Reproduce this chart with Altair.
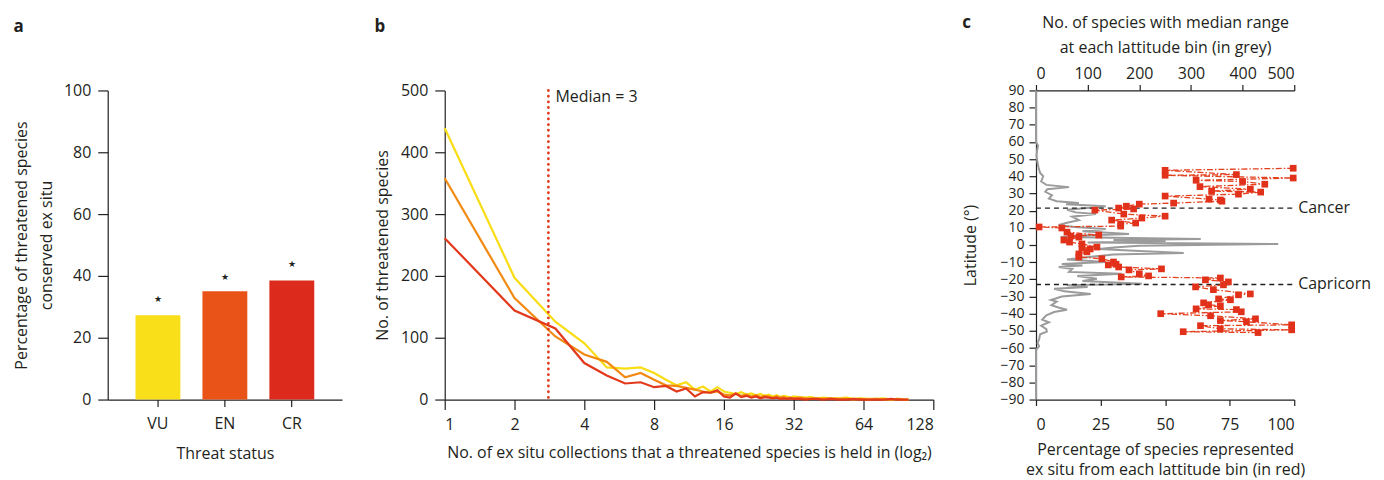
import altair as alt
import pandas as pd

FONT = "Open Sans"
TXT = "#231f20"

# ---------------- Panel a data ----------------
status = ["VU", "EN", "CR"]
pct_conserved = [27.3, 35.0, 38.5]
star_pos = [32.6, 39.6, 43.8]
bar_colors = ["#F9DE1A", "#EA5318", "#DC2A1C"]

# ---------------- Panel b data ----------------
n_collections = list(range(1, 33)) + [34, 36, 38, 40, 43, 46, 50, 54, 58, 62, 67, 72, 78, 84, 90, 96, 100]
vu_counts = [439, 197, 126, 91, 52, 50, 52, 43, 32, 23, 28, 16, 21, 13, 20, 13,
             11, 9, 12, 8, 10, 7, 9, 6, 8, 5, 7, 4, 6, 5, 3, 5,
             4, 3, 4, 2, 3, 2, 2, 3, 1, 2, 1, 1, 2, 0, 1, 0, 0]
en_counts = [358, 164, 102, 73, 61, 36, 43, 32, 23, 22, 19, 16, 13, 11, 13, 8,
             7, 9, 6, 8, 5, 7, 4, 6, 5, 3, 5, 3, 4, 2, 3, 2,
             3, 2, 1, 2, 1, 2, 1, 1, 0, 1, 0, 1, 0, 0, 1, 0, 0]
cr_counts = [261, 144, 115, 59, 39, 26, 28, 20, 22, 13, 18, 5, 12, 11, 15, 5,
             3, 10, 4, 6, 3, 5, 2, 4, 3, 2, 3, 1, 2, 1, 2, 1,
             1, 0, 1, 1, 0, 1, 0, 0, 1, 0, 0, 0, 0, 1, 0, 0, 0]
line_colors = ["#F8DC14", "#F28A12", "#E2391B"]
median_val = [2.8]
median_label = ["Median = 3"]

# ---------------- Panel c data ----------------
red_lat = [44.7, 43.5, 41, 40.6, 39, 37.7, 37, 35.4, 34, 32.5, 31.4, 30.8, 29.6, 28.5,
           26.7, 26.2, 25.5, 24.4, 23.8, 22.6, 21.5, 21, 20.3, 18, 16.8, 15.7, 14.5,
           12.8, 12.2, 11, 10.5, 9.9, 7.5, 5.8, 5.2, 4.6, 2.9, 1.7, 0.6, -1.2, -1.8,
           -2.3, -4, -5.2, -7, -8, -9.9, -11.2, -11.6, -12.8, -13.9, -14.5, -16.8,
           -18, -18.6, -19.2, -20.3, -21.5, -23.2, -24.4, -26, -28.5, -29, -31.4,
           -31.9, -33.7, -34.8, -35.4, -37.2, -37.6, -38.9, -40, -41.2, -43, -44,
           -44.7, -46.5, -47, -48.8, -49.4, -50.5, -51]
red_pct = [99.6, 50, 77.6, 50, 99.6, 62, 80, 88.6, 63.5, 83, 68, 87, 78.4, 50,
           67, 71.4, 72, 53.3, 40, 35, 32, 37.8, 22.8, 34, 50, 41, 29.3,
           38.6, 32.8, 32.8, 1.2, 10, 12, 24.3, 13.5, 16.6, 10.8, 13, 17.8, 23.6, 17.8,
           21, 19.7, 16.6, 16.6, 25.5, 30, 31, 28, 32, 48.6, 36, 40,
           43.6, 33, 71.4, 65.6, 74.5, 72.6, 61.8, 68.7, 83, 78.4, 70.7,
           75.3, 64.9, 66.8, 71.4, 62, 77.6, 79.5, 48.3, 67.6, 85, 71.4,
           81.5, 99, 63.7, 71.4, 99, 57, 86]
grey_lat = [90, 60, 58, 55, 52, 48, 45, 42, 40, 37, 35, 33.7, 32.5, 31, 29, 27, 25.5,
            24.4, 23.8, 22.5, 21.5, 20.5, 19, 18, 16.5, 14.5, 13, 11.6, 10.5, 9.3, 8,
            6.4, 5.5, 4.6, 3.5, 2.9, 2.3, 1.5, 0.6, -0.5, -1.5, -2.3, -3.5, -4.6,
            -5.5, -7, -8.5, -9.9, -11, -12, -12.8, -14, -15.7, -16.8, -18, -19.7,
            -21, -22.6, -23.5, -24.5, -25.5, -27, -28.5, -30, -32, -33, -35, -36.5,
            -37.7, -39, -41, -43.5, -45, -47, -49, -50.5, -52, -55, -57, -59, -61, -90]
grey_species = [0, 0, 4, 2, 1, 3, 5, 8, 14, 10, 20, 64, 22, 18, 31, 25, 40,
                83, 58, 135, 100, 60, 77, 116, 70, 83, 60, 44, 75, 135, 90,
                180, 90, 48, 319, 150, 251, 100, 469, 200, 150, 122, 200, 286,
                150, 102, 60, 135, 50, 90, 44, 70, 64, 166, 80, 118,
                90, 205, 60, 100, 35, 55, 106, 50, 29, 40, 30, 45,
                60, 35, 20, 12, 25, 10, 20, 21, 8, 6, 3, 6, 0, 0]
tropic_lat = [21.5, -23.0]
tropic_name = ["Cancer", "Capricorn"]


def panel_title(letter, offset, dy=0):
    return alt.TitleParams(letter, anchor="start", frame="bounds", offset=offset, dy=dy,
                           fontSize=17, fontWeight="bold", font=FONT, color=TXT)


# ---------------- Panel a ----------------
dfa = pd.DataFrame({"status": status, "pct": pct_conserved, "star": star_pos})
xa = alt.X("status:N", sort=status,
           scale=alt.Scale(paddingInner=0, paddingOuter=0.25),
           axis=alt.Axis(title="Threat status", labelAngle=0, tickSize=7,
                         labelPadding=9, titlePadding=14))
ya_axis = alt.Axis(values=[0, 20, 40, 60, 80, 100],
                   title=["Percentage of threatened species", "conserved ex situ"],
                   tickSize=10, labelPadding=7, titlePadding=9)
bars = alt.Chart(dfa).mark_bar(size=45).encode(
    x=xa,
    y=alt.Y("pct:Q", scale=alt.Scale(domain=[0, 100]), axis=ya_axis),
    color=alt.Color("status:N", scale=alt.Scale(domain=status, range=bar_colors), legend=None),
)
stars = alt.Chart(dfa).mark_text(text="★", fontSize=9, color=TXT).encode(
    x=xa,
    y=alt.Y("star:Q", scale=alt.Scale(domain=[0, 100]), axis=ya_axis),
)
panel_a = alt.layer(bars, stars).properties(width=235, height=310, title=panel_title("a", 47))

# ---------------- Panel b ----------------
rows = []
for s, vals in zip(status, [vu_counts, en_counts, cr_counts]):
    for n, v in zip(n_collections, vals):
        rows.append({"n": n, "count": v, "status": s})
dfb = pd.DataFrame(rows)
xb_scale = alt.Scale(type="log", base=2, domain=[1, 128])
xb_axis = alt.Axis(values=[1, 2, 4, 8, 16, 32, 64, 128], format="d",
                   title="No. of ex situ collections that a threatened species is held in (log₂)",
                   tickSize=10, labelPadding=7, titlePadding=12)
yb_scale = alt.Scale(domain=[0, 500])
yb_axis = alt.Axis(values=[0, 100, 200, 300, 400, 500], title="No. of threatened species",
                   tickSize=10, labelPadding=7, titlePadding=10)
line_layers = []
for s, c in zip(status, line_colors):
    line_layers.append(
        alt.Chart(dfb).transform_filter(alt.datum.status == s).mark_line(
            color=c, strokeWidth=2.2).encode(
            x=alt.X("n:Q", scale=xb_scale, axis=xb_axis),
            y=alt.Y("count:Q", scale=yb_scale, axis=yb_axis),
        )
    )
dfm = pd.DataFrame({"n": median_val, "label": median_label})
median_rule = alt.Chart(dfm).mark_rule(color="#E2391B", strokeWidth=2.8,
                                       strokeDash=[0.1, 5.6], strokeCap="round").encode(
    x=alt.X("n:Q", scale=xb_scale, axis=xb_axis),
)
median_text = alt.Chart(dfm).mark_text(align="left", baseline="middle", dx=7, dy=7,
                                       font=FONT, fontSize=16, color=TXT).encode(
    x=alt.X("n:Q", scale=xb_scale, axis=xb_axis),
    y=alt.Y(datum=500, scale=yb_scale, axis=yb_axis),
    text="label:N",
)
panel_b = alt.layer(*line_layers, median_rule, median_text).properties(
    width=490, height=310, title=panel_title("b", 47))

# ---------------- Panel c ----------------
dfr = pd.DataFrame({"lat": red_lat, "pct": red_pct, "i": list(range(len(red_lat)))})
dfg = pd.DataFrame({"lat": grey_lat, "species": grey_species, "i": list(range(len(grey_lat)))})
dft = pd.DataFrame({"lat": tropic_lat, "name": tropic_name})

yc_scale = alt.Scale(domain=[-90, 90])
yc_axis = alt.Axis(values=list(range(-90, 91, 10)), title="Latitude (°)",
                   tickSize=7, labelPadding=5, titlePadding=22, labelFontSize=14)
xr_scale = alt.Scale(domain=[0, 100])
xr_axis = alt.Axis(orient="bottom", values=[0, 25, 50, 75, 100],
                   title=["Percentage of species represented",
                          "ex situ from each lattitude bin (in red)"],
                   tickSize=6, labelPadding=11, titlePadding=9, titleLineHeight=20)

grey = alt.Chart(dfg).mark_line(color="#9b9b9b", strokeWidth=2).encode(
    x=alt.X("species:Q", scale=alt.Scale(domain=[0, 500]),
            axis=alt.Axis(orient="top", values=[0, 100, 200, 300, 400, 500],
                          title=["No. of species with median range",
                                 "at each lattitude bin (in grey)"],
                          tickSize=6, labelPadding=3, titlePadding=10)),
    y=alt.Y("lat:Q", scale=yc_scale, axis=yc_axis),
    order="i:Q",
)
rules = alt.Chart(dft).mark_rule(color=TXT, strokeDash=[5, 4], strokeWidth=1.3).encode(
    x=alt.X(datum=0, scale=xr_scale, axis=xr_axis),
    x2=alt.X2(datum=100),
    y=alt.Y("lat:Q", scale=yc_scale, axis=yc_axis),
)
redline = alt.Chart(dfr).mark_line(color="#E4411E", strokeWidth=1.3,
                                   strokeDash=[6, 2, 1.5, 2]).encode(
    x=alt.X("pct:Q", scale=xr_scale, axis=xr_axis),
    y=alt.Y("lat:Q", scale=yc_scale, axis=yc_axis),
    order="i:Q",
)
redpts = alt.Chart(dfr).mark_square(size=45, color="#E2311B", opacity=1).encode(
    x=alt.X("pct:Q", scale=xr_scale, axis=xr_axis),
    y=alt.Y("lat:Q", scale=yc_scale, axis=yc_axis),
)
tropic_text = alt.Chart(dft).mark_text(align="left", baseline="middle", dx=4,
                                       font=FONT, fontSize=16, color=TXT).encode(
    x=alt.X(datum=100, scale=xr_scale, axis=xr_axis),
    y=alt.Y("lat:Q", scale=yc_scale, axis=yc_axis),
    text="name:N",
)
inner = alt.layer(rules, redline, redpts, tropic_text)
panel_c = alt.layer(grey, inner).resolve_scale(x="independent").resolve_axis(
    x="independent").properties(width=259, height=310, title=panel_title("c", 0, 17))

chart = alt.hconcat(panel_a, panel_b, panel_c, spacing=103, bounds="flush").configure_axis(
    labelFont=FONT, titleFont=FONT, labelFontSize=16, titleFontSize=16,
    titleFontWeight="normal", labelColor=TXT, titleColor=TXT,
    domainColor=TXT, tickColor=TXT, domainWidth=1.2, tickWidth=1.2,
    grid=False, titleLineHeight=25,
).configure_view(stroke=None).configure_title(font=FONT)

chart.save("out.html", embed_options={"renderer": "svg", "actions": False})
